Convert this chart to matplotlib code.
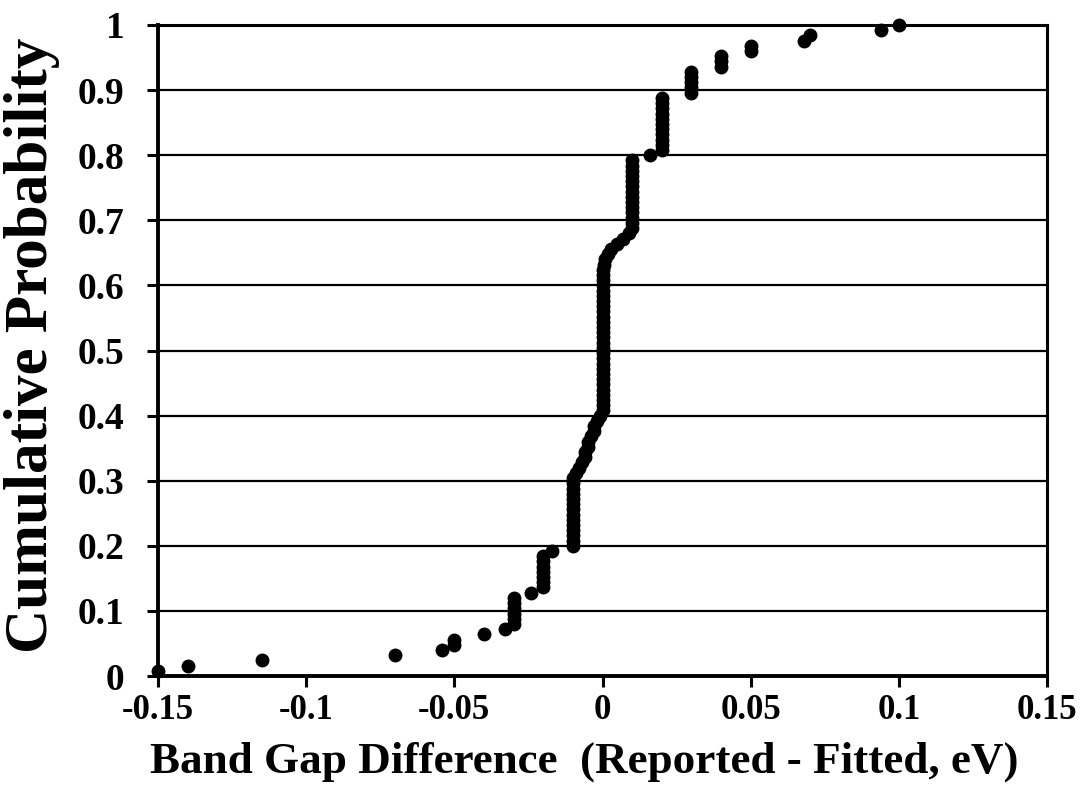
import numpy as np
import matplotlib
matplotlib.use("Agg")
import matplotlib.pyplot as plt

# Sorted band-gap differences (reported - fitted, eV)
diff_tail_low = [-0.15, -0.14, -0.115, -0.07, -0.054, -0.05, -0.05, -0.04, -0.033]
diff_m003 = [-0.03] * 6
diff_m002 = [-0.024] + [-0.02] * 7 + [-0.017]
diff_m001 = [-0.01] * 14
diff_neg_slope = [-0.009, -0.008, -0.007, -0.006, -0.006, -0.005,
                  -0.005, -0.004, -0.003, -0.003, -0.002, -0.001]
diff_zero = [0.0] * 28
diff_pos_slope = [0.0005, 0.001, 0.002, 0.003, 0.005, 0.007, 0.009]
diff_p001 = [0.01] * 14
diff_p002 = [0.016] + [0.02] * 11
diff_tail_high = [0.03] * 5 + [0.04] * 3 + [0.05] * 2 + [0.068, 0.07, 0.094, 0.1]

differences = np.array(diff_tail_low + diff_m003 + diff_m002 + diff_m001 +
                       diff_neg_slope + diff_zero + diff_pos_slope +
                       diff_p001 + diff_p002 + diff_tail_high)
cum_prob = np.arange(1, len(differences) + 1) / len(differences)

x_ticks = [-0.15, -0.1, -0.05, 0, 0.05, 0.1, 0.15]
x_tick_labels = ["-0.15", "-0.1", "-0.05", "0", "0.05", "0.1", "0.15"]
y_ticks = [0, 0.1, 0.2, 0.3, 0.4, 0.5, 0.6, 0.7, 0.8, 0.9, 1]
y_tick_labels = ["0", "0.1", "0.2", "0.3", "0.4", "0.5", "0.6", "0.7", "0.8", "0.9", "1"]

plt.rcParams["font.family"] = ["Liberation Serif", "DejaVu Serif"]
plt.rcParams["font.weight"] = "bold"

fig = plt.figure(figsize=(10.86, 8.0), dpi=100)
ax = fig.add_axes([158 / 1086, 1 - 676 / 800, 889 / 1086, 651 / 800])

for yv in y_ticks[1:-1]:
    ax.axhline(yv, color="black", lw=1.6, zorder=1)

ax.plot(differences, cum_prob, "o", color="black", ms=9, clip_on=False, zorder=3)

ax.set_xlim(-0.15, 0.15)
ax.set_ylim(0, 1)
ax.set_xticks(x_ticks)
ax.set_xticklabels(x_tick_labels, fontsize=25, fontweight="bold")
ax.set_yticks(y_ticks)
ax.set_yticklabels(y_tick_labels, fontsize=27, fontweight="bold")

ax.tick_params(axis="x", direction="out", length=8, width=2.2, pad=5)
ax.tick_params(axis="y", direction="out", length=8, width=2.2, pad=16)

for side in ["left", "bottom"]:
    ax.spines[side].set_linewidth(2.8)
for side in ["right", "top"]:
    ax.spines[side].set_linewidth(2.2)
for sp in ax.spines.values():
    sp.set_color("black")
    sp.set_zorder(4)

ax.set_xlabel("Band Gap Difference  (Reported - Fitted, eV)", fontsize=32.5, fontweight="bold")
ax.xaxis.label.set_va("center")
ax.xaxis.set_label_coords(0.479, -0.132)

ax.set_ylabel("Cumulative Probability", fontsize=44, fontweight="bold")
ax.yaxis.label.set_va("center")
ax.yaxis.set_label_coords(-0.142, 0.508)

fig.savefig("out.png", dpi=100, facecolor="white")
